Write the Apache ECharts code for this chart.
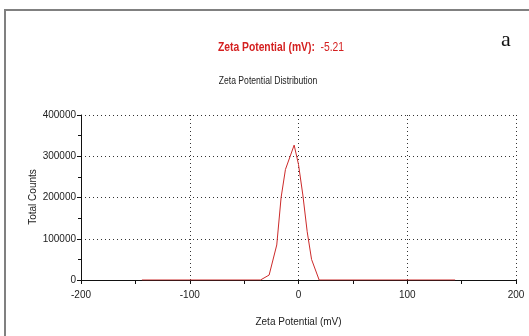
<!DOCTYPE html>
<html><head><meta charset="utf-8">
<script src="https://cdn.jsdelivr.net/npm/echarts@6/dist/echarts.min.js"></script>
<style>html,body{margin:0;padding:0;background:#fff}#c{width:529px;height:336px}</style>
</head><body><div id="c"></div>
<script>
const zeta = [-144, -35, -27, -20, -16, -12, -4, 0, 4, 8, 12, 19, 144];
const counts = [0, 0, 12000, 85000, 200000, 268000, 327000, 280000, 206000, 117000, 50000, 0, 0];
const xTicks = [-200, -100, 0, 100, 200];
const yTicks = [0, 100000, 200000, 300000, 400000];
const titleMain = 'Zeta Potential (mV):';
const titleValue = '-5.21';
const subTitle = 'Zeta Potential Distribution';
const yName = 'Total Counts';
const FONT = '"Liberation Sans",Arial,sans-serif';

const chart = echarts.init(document.getElementById('c'), null, {renderer: 'canvas'});
chart.setOption({
  animation: false,
  backgroundColor: '#fff',
  grid: {left: 81, right: 13, top: 115, bottom: 56},
  xAxis: {
    type: 'value', min: xTicks[0], max: xTicks[xTicks.length-1], interval: 100,
    name: 'Zeta Potential (mV)', nameLocation: 'middle', nameGap: 37,
    nameTextStyle: {fontFamily: FONT, fontSize: 10, color: '#222'},
    axisLine: {show: true, onZero: false, lineStyle: {color: '#111', width: 1}},
    axisTick: {show: true, length: 4, lineStyle: {color: '#111'}},
    minorTick: {show: true, splitNumber: 2, length: 4, lineStyle: {color: '#111'}},
    axisLabel: {fontFamily: FONT, fontSize: 10, color: '#222', margin: 10},
    splitLine: {show: true, lineStyle: {color: '#333', type: [1, 3], width: 1}}
  },
  yAxis: {
    type: 'value', min: yTicks[0], max: yTicks[yTicks.length-1], interval: 100000,
    axisLine: {show: true, onZero: false, lineStyle: {color: '#111', width: 1}},
    axisTick: {show: true, length: 4, lineStyle: {color: '#111'}},
    minorTick: {show: true, splitNumber: 2, length: 3, lineStyle: {color: '#111'}},
    axisLabel: {fontFamily: FONT, fontSize: 10, color: '#222', margin: 5, formatter: v => String(v)},
    splitLine: {show: true, lineStyle: {color: '#333', type: [1, 3], width: 1}}
  },
  series: [{
    type: 'line', data: zeta.map((x, i) => [x, counts[i]]),
    symbol: 'none', lineStyle: {color: '#cc2a2a', width: 1}, z: 5
  }],
  graphic: [
    {type: 'rect', shape: {x: 5, y: 10, width: 540, height: 340}, style: {fill: 'none', stroke: '#808080', lineWidth: 2}, silent: true},
    {type: 'text', x: 281, y: 48, scaleX: 0.86, style: {
      x: 0, y: 0, align: 'center', verticalAlign: 'middle',
      text: '{a|' + titleMain + '}  {b|' + titleValue + '}',
      rich: {a: {fontFamily: FONT, fontSize: 12, fontWeight: 'bold', fill: '#d42020'},
             b: {fontFamily: FONT, fontSize: 12, fill: '#d42020'}}
    }},
    {type: 'text', x: 268, y: 81, scaleX: 0.86, style: {x: 0, y: 0, align: 'center', verticalAlign: 'middle', text: subTitle,
      fontFamily: FONT, fontSize: 10, fill: '#222'}},
    {type: 'text', x: 33, y: 197, rotation: Math.PI / 2, style: {x: 0, y: 0, align: 'center', verticalAlign: 'middle', text: yName,
      fontFamily: FONT, fontSize: 10, fill: '#222'}},
    {type: 'text', style: {x: 506, y: 40, align: 'center', verticalAlign: 'middle', text: 'a',
      fontFamily: '"Liberation Serif","DejaVu Serif",serif', fontSize: 22, fill: '#111'}}
  ]
});
</script></body></html>
